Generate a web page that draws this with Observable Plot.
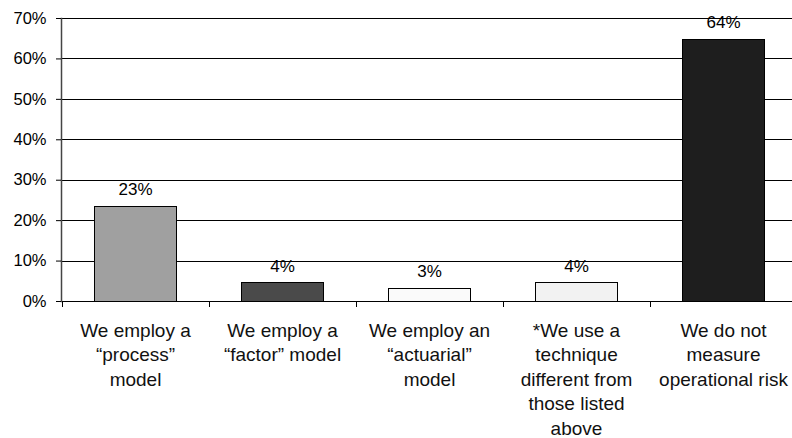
<!DOCTYPE html>
<html>
<head>
<meta charset="utf-8">
<script src="https://cdn.jsdelivr.net/npm/d3@7"></script>
<script src="https://cdn.jsdelivr.net/npm/@observablehq/plot@0.6"></script>
<style>
  html, body { margin: 0; padding: 0; background: #fff; overflow: hidden; }
  #chart { width: 792px; height: 438px; overflow: hidden; }
</style>
</head>
<body>
<div id="chart"></div>
<script>
const categories = [
  "We employ a\n\u201Cprocess\u201D\nmodel",
  "We employ a\n\u201Cfactor\u201D model",
  "We employ an\n\u201Cactuarial\u201D\nmodel",
  "*We use a\ntechnique\ndifferent from\nthose listed\nabove",
  "We do not\nmeasure\noperational risk"
];
const values = [23.4, 4.5, 3.2, 4.5, 64.7];
const valueLabels = ["23%", "4%", "3%", "4%", "64%"];
const barColors = ["#a0a0a0", "#4a4a4a", "#fafafa", "#f2f2f2", "#1e1e1e"];
const yTicks = [0, 10, 20, 30, 40, 50, 60, 70];

const data = categories.map((c, i) => ({cat: c, value: values[i], label: valueLabels[i], color: barColors[i]}));
const FONT = "'Liberation Sans', Arial, sans-serif";

function boundaryTicks(index, scales, values, dims, context) {
  const x = scales.x, y = scales.y;
  const bw = typeof x.bandwidth === "function" ? x.bandwidth() : x.bandwidth;
  const step = typeof x.step === "function" ? x.step() : (x(categories[1]) - x(categories[0]));
  const gap = (step - bw) / 2;
  const g = d3.create("svg:g");
  const y0 = y(0);
  categories.forEach(c => {
    const bx = Math.round(x(c) - gap) + 0.5;
    g.append("line")
      .attr("x1", bx).attr("x2", bx)
      .attr("y1", y0).attr("y2", y0 + 6)
      .attr("stroke", "#000");
  });
  return g.node();
}

const chart = Plot.plot({
  width: 798,
  height: 438,
  marginLeft: 61,
  marginRight: 0,
  marginTop: 18,
  marginBottom: 137,
  style: {maxWidth: "none", background: "#fff", fontFamily: FONT, overflow: "visible"},
  x: {domain: categories, paddingInner: 0.44, paddingOuter: 0.22, axis: null},
  y: {domain: [0, 70], axis: null},
  marks: [
    Plot.ruleY(yTicks, {y: d => d, stroke: "#000", strokeWidth: 1, shapeRendering: "crispEdges"}),
    Plot.frame({anchor: "left", stroke: "#444", strokeWidth: 1.5}),
    Plot.barY(data, {x: "cat", y: "value", fill: "color", stroke: "#000", strokeWidth: 1, shapeRendering: "crispEdges"}),
    Plot.text(data, {x: "cat", y: "value", text: "label", dy: -17, fontSize: 17, fontFamily: FONT, fill: "#000", lineAnchor: "middle"}),
    Plot.axisY({ticks: yTicks, tickFormat: d => d + "%", tickSize: 5, tickPadding: 10, fontSize: 16.5, fontFamily: FONT, label: null, stroke: "#000", color: "#000"}),
    Plot.text(data, {x: "cat", y: 0, text: "cat", dy: 18, lineAnchor: "top", lineHeight: 1.29, fontSize: 19, fontFamily: FONT, fill: "#111", textAnchor: "middle"}),
    boundaryTicks
  ]
});
document.getElementById("chart").appendChild(chart);
</script>
</body>
</html>
